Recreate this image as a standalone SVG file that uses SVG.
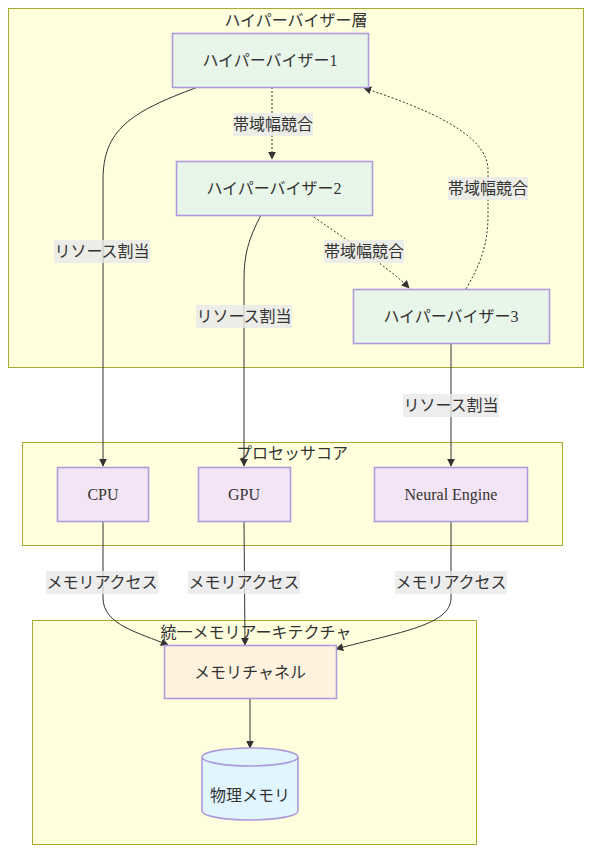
<svg xmlns="http://www.w3.org/2000/svg" width="592" height="853" viewBox="0 0 592 853">
<style>
.cluster{fill:#ffffde;stroke:#aaaa33;stroke-width:1}
.ctitle{font-family:"Liberation Serif","Noto Sans CJK JP",serif;font-size:16px;fill:#333;text-anchor:middle}
.node{stroke:#ad9bdb;stroke-width:1.6}
.hv{fill:#e8f5e9}
.pc{fill:#f3e5f5}
.mc{fill:#fff3e0}
.db{fill:#e1f5fe}
.ntext{font-family:"Liberation Serif","Noto Sans CJK JP",serif;font-size:16px;fill:#333;text-anchor:middle;dominant-baseline:central}
.edge{fill:none;stroke:#333;stroke-width:1}
.dot{stroke-dasharray:2,2}
.lblbg{fill:#e8e8e8;fill-opacity:0.8}
.ltext{font-family:"Liberation Serif","Noto Sans CJK JP",serif;font-size:16px;fill:#333;text-anchor:middle;dominant-baseline:central}
</style>
<defs>
<marker id="arrow" viewBox="0 0 10 10" refX="9" refY="5" markerWidth="8" markerHeight="8" orient="auto-start-reverse" markerUnits="userSpaceOnUse">
<path d="M0,0 L10,5 L0,10 z" fill="#333"/>
</marker>
</defs>
<rect width="592" height="853" fill="#ffffff"/>
<g id="clusters">
<g id="cluster-hv">
<rect class="cluster" x="8.5" y="8.5" width="575" height="359"/>
<text class="ctitle" x="296" y="26">ハイパーバイザー層</text>
</g>
<g id="cluster-pc">
<rect class="cluster" x="22.5" y="442.5" width="540" height="103"/>
<text class="ctitle" x="292" y="459">プロセッサコア</text>
</g>
<g id="cluster-mem">
<rect class="cluster" x="32.5" y="620.5" width="444" height="224"/>
<text class="ctitle" x="256" y="638">統一メモリアーキテクチャ</text>
</g>
</g>
<g id="connectors">
<path class="edge dot" d="M272,87 L272,159" marker-end="url(#arrow)"/>
<path class="edge dot" d="M311,215 C335,232 390,268 409,288" marker-end="url(#arrow)"/>
<path class="edge dot" d="M466,289 C480,265 488,245 488,215 L488,170 C488,135 430,110 364,88" marker-end="url(#arrow)"/>
<path class="edge" d="M198,87 C130,112 103,130 103,180 L103,466" marker-end="url(#arrow)"/>
<path class="edge" d="M261,215 C248,240 244,255 244,280 L244,466" marker-end="url(#arrow)"/>
<path class="edge" d="M451,343 L451,466" marker-end="url(#arrow)"/>
<path class="edge" d="M103,521 L103,598 C103,625 140,633 168,645" marker-end="url(#arrow)"/>
<path class="edge" d="M244,521 L245,645" marker-end="url(#arrow)"/>
<path class="edge" d="M451,521 L451,598 C451,625 400,632 336,649" marker-end="url(#arrow)"/>
<path class="edge" d="M250,699 L250,748" marker-end="url(#arrow)"/>
<g id="edge-labels">
<rect class="lblbg" x="233" y="113" width="80" height="23"/>
<text class="ltext" x="273" y="124.5">帯域幅競合</text>
<rect class="lblbg" x="324" y="240" width="80" height="23"/>
<text class="ltext" x="364" y="251.5">帯域幅競合</text>
<rect class="lblbg" x="448" y="177" width="80" height="23"/>
<text class="ltext" x="488" y="188.5">帯域幅競合</text>
<rect class="lblbg" x="54" y="240" width="96" height="23"/>
<text class="ltext" x="102" y="251.5">リソース割当</text>
<rect class="lblbg" x="196" y="305" width="96" height="23"/>
<text class="ltext" x="244" y="316.5">リソース割当</text>
<rect class="lblbg" x="403" y="394" width="96" height="23"/>
<text class="ltext" x="451" y="405.5">リソース割当</text>
<rect class="lblbg" x="46" y="571" width="112" height="23"/>
<text class="ltext" x="102" y="582.5">メモリアクセス</text>
<rect class="lblbg" x="188" y="571" width="112" height="23"/>
<text class="ltext" x="244" y="582.5">メモリアクセス</text>
<rect class="lblbg" x="395" y="571" width="112" height="23"/>
<text class="ltext" x="451" y="582.5">メモリアクセス</text>
</g>
</g>
<g id="node-hv1">
<rect class="node hv" x="172.5" y="33.5" width="196" height="54"/>
<text class="ntext" x="270" y="60">ハイパーバイザー1</text>
</g>
<g id="node-hv2">
<rect class="node hv" x="176.5" y="161.5" width="196" height="54"/>
<text class="ntext" x="274" y="188">ハイパーバイザー2</text>
</g>
<g id="node-hv3">
<rect class="node hv" x="353.5" y="289.5" width="196" height="54"/>
<text class="ntext" x="451" y="316">ハイパーバイザー3</text>
</g>
<g id="node-cpu">
<rect class="node pc" x="57.5" y="467.5" width="91" height="54"/>
<text class="ntext" x="103" y="494">CPU</text>
</g>
<g id="node-gpu">
<rect class="node pc" x="198.5" y="467.5" width="92" height="54"/>
<text class="ntext" x="244" y="494">GPU</text>
</g>
<g id="node-ne">
<rect class="node pc" x="374.5" y="467.5" width="153" height="54"/>
<text class="ntext" x="451" y="494">Neural Engine</text>
</g>
<g id="node-mc">
<rect class="node mc" x="164.5" y="645.5" width="172" height="53"/>
<text class="ntext" x="250" y="672">メモリチャネル</text>
</g>
<g id="node-pm">
<path class="node db" d="M202,757 a48,9 0 0 0 96,0 a48,9 0 0 0 -96,0 l0,54 a48,9 0 0 0 96,0 l0,-54"/>
<text class="ntext" x="250" y="795">物理メモリ</text>
</g>
</svg>
